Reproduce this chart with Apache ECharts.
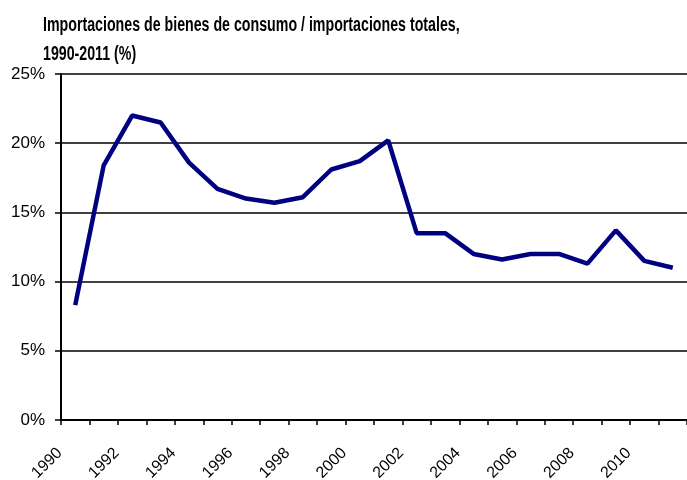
<!DOCTYPE html>
<html>
<head>
<meta charset="utf-8">
<script src="https://cdn.jsdelivr.net/npm/echarts@6/dist/echarts.min.js"></script>
<style>
  html, body { margin: 0; padding: 0; background: #fff; }
  #chart { width: 687px; height: 480px; }
</style>
</head>
<body>
<div id="chart"></div>
<script>
const years = ['1990', '1991', '1992', '1993', '1994', '1995', '1996', '1997', '1998', '1999', '2000',
  '2001', '2002', '2003', '2004', '2005', '2006', '2007', '2008', '2009', '2010', '2011']
const share = [8.3, 18.4, 22.0, 21.5, 18.6, 16.7, 16.0, 15.7, 16.1, 18.1, 18.7,
  20.2, 13.5, 13.5, 12.0, 11.6, 12.0, 12.0, 11.3, 13.7, 11.5, 11.0]
const titleLines = ['Importaciones de bienes de consumo / importaciones totales,', '1990-2011 (%)']

// title font is tall and condensed, so draw it as scaled text
const titleFont = 'bold 20px "Liberation Sans", Arial, sans-serif'

const chart = echarts.init(document.getElementById('chart'))
chart.setOption({
  animation: false,
  graphic: [
    {
      type: 'text', x: 43, y: 15, scaleX: 0.71,
      style: { text: titleLines[0], font: titleFont, fill: '#000' }
    },
    {
      type: 'text', x: 43, y: 44, scaleX: 0.71,
      style: { text: titleLines[1], font: titleFont, fill: '#000' }
    }
  ],
  grid: { left: 61, right: 0, top: 74, bottom: 60, outerBoundsMode: 'none' },
  xAxis: {
    type: 'category',
    data: years,
    boundaryGap: true,
    axisLine: { lineStyle: { color: '#000', width: 2 } },
    axisTick: { show: true, interval: 0, length: 5, lineStyle: { color: '#000', width: 1.5 } },
    axisLabel: {
      interval: 1,
      rotate: 45,
      margin: 15,
      padding: [0, 22, 0, 0],
      fontFamily: 'Liberation Sans',
      fontSize: 16,
      color: '#000'
    }
  },
  yAxis: {
    type: 'value',
    min: 0,
    max: 25,
    interval: 5,
    axisLine: { show: true, lineStyle: { color: '#000', width: 2 } },
    axisTick: { show: true, length: 6, lineStyle: { color: '#000', width: 1.5 } },
    axisLabel: {
      formatter: '{value}%',
      margin: 16,
      fontFamily: 'Liberation Sans',
      fontSize: 17,
      color: '#000'
    },
    splitLine: { lineStyle: { color: '#000', width: 1.5 } }
  },
  series: [
    {
      type: 'line',
      data: share,
      showSymbol: false,
      lineStyle: { color: '#000080', width: 4.5 },
      itemStyle: { color: '#000080' }
    }
  ]
})
</script>
</body>
</html>
